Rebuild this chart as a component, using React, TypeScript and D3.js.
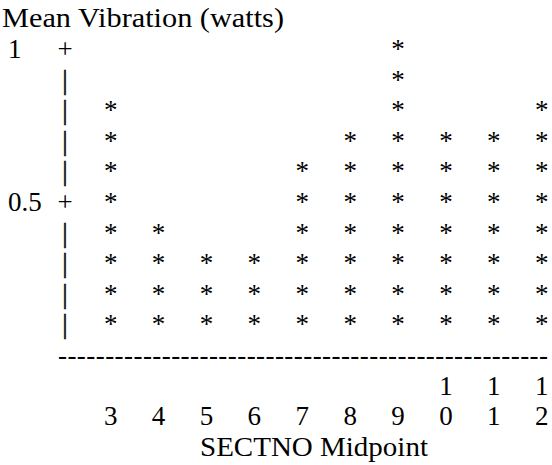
import React from "react";
import * as d3 from "d3";

const categories = [3, 4, 5, 6, 7, 8, 9, 10, 11, 12];
const meanVibration = [0.8, 0.4, 0.3, 0.3, 0.6, 0.7, 1.0, 0.7, 0.7, 0.8];
const yTickValues = [1, 0.5];
const yTickLabels = ["1", "0.5"];
const chartTitle = "Mean Vibration (watts)";
const xTitle = "SECTNO Midpoint";
const symbolStep = 0.1;

const FONT = "'Liberation Serif'";

export default function App() {
  const W = 552;
  const H = 465;
  const x = d3.scalePoint<number>().domain(categories).range([110.7, 541.7]);
  const y = d3.scaleLinear().domain([0, 1]).range([364, 58]);
  const rowH = y(0) - y(symbolStep);
  const levels = d3.range(1, 11).map((i) => +(i * symbolStep).toFixed(2));
  const axisX = 65;

  const stars: { cx: number; cy: number; key: string }[] = [];
  categories.forEach((c, i) => {
    levels
      .filter((l) => l <= meanVibration[i] + 1e-9)
      .forEach((l) => stars.push({ cx: x(c)!, cy: y(l), key: `${c}-${l}` }));
  });

  const txt: React.CSSProperties = { fontFamily: FONT, fontSize: "27px", fill: "#000" };
  const bar: React.CSSProperties = { ...txt, stroke: "#111", strokeWidth: 0.5 };

  return (
    <svg
      width={W}
      height={H}
      style={{ position: "absolute", left: 0, top: 0, background: "#fff" }}
    >
      <text style={txt} x={2} y={y(1) - rowH} textLength={282} lengthAdjust="spacingAndGlyphs">
        {chartTitle}
      </text>

      {yTickValues.map((v, i) => (
        <text style={txt} key={`yl${v}`} x={8} y={y(v)}>{yTickLabels[i]}</text>
      ))}

      {levels.map((l) => {
        const isTick = yTickValues.some((t) => Math.abs(t - l) < 1e-9);
        return (
          <text style={isTick ? txt : bar} key={`ax${l}`} x={axisX} y={y(l)} textAnchor="middle">
            {isTick ? "+" : "|"}
          </text>
        );
      })}

      {stars.map((s) => (
        <text style={txt} key={s.key} x={s.cx} y={s.cy} textAnchor="middle">*</text>
      ))}

      <text style={txt} x={58} y={y(0)} textLength={490} lengthAdjust="spacing">
        {"-".repeat(52)}
      </text>

      {categories.map((c) => {
        const s = String(c);
        return s.split("").map((ch, i) => (
          <text
            style={txt}
            key={`xl${c}-${i}`}
            x={x(c)!}
            y={y(0) + rowH * (1 + (2 - s.length) + i)}
            textAnchor="middle"
          >
            {ch}
          </text>
        ));
      })}

      <text style={txt} x={200} y={y(0) + rowH * 3} textLength={228} lengthAdjust="spacingAndGlyphs">
        {xTitle}
      </text>
    </svg>
  );
}
